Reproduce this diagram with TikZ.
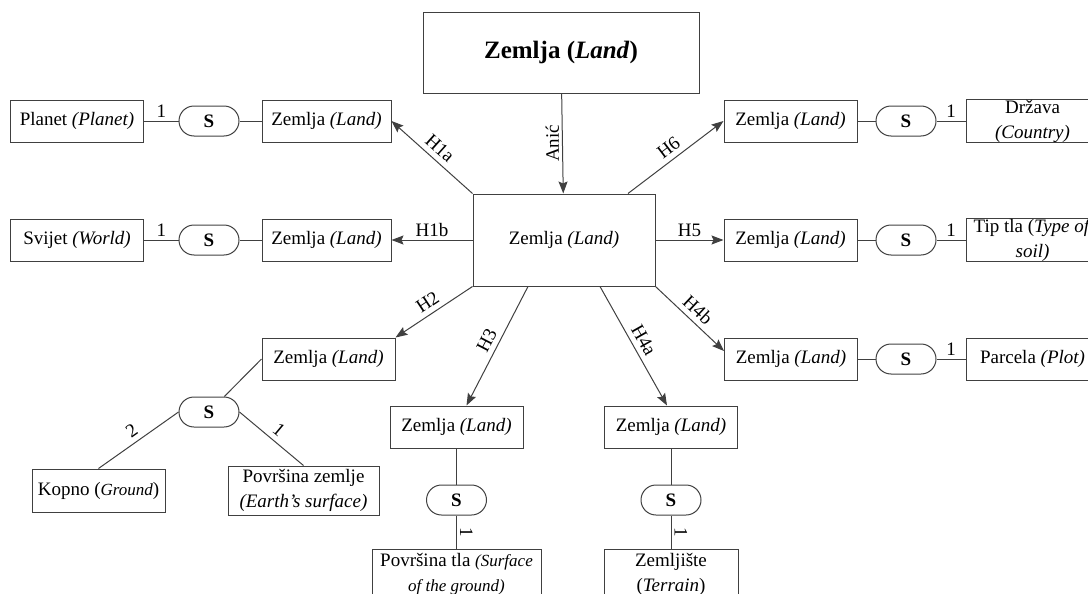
\documentclass[tikz,border=0pt]{standalone}
\usepackage{fontspec}
\setmainfont{Liberation Serif}
\usetikzlibrary{arrows.meta,shapes.misc}
\definecolor{ln}{HTML}{404040}
\begin{document}
\begin{tikzpicture}[x=0.5pt,y=-0.5pt,
  every node/.style={font=\fontsize{9.5}{12.5}\selectfont},
  box/.style={draw=ln, line width=0.5pt, inner sep=0pt, minimum width=66.5pt, minimum height=21pt, align=center},
  pill/.style={draw=ln, line width=0.5pt, rounded rectangle, inner sep=0pt, minimum width=30pt, minimum height=15pt, font=\fontsize{9.5}{12}\selectfont\bfseries},
  conn/.style={draw=ln, line width=0.5pt},
  arr/.style={conn, -{Stealth[length=6pt,width=4.5pt,inset=1pt]}},
  lbl/.style={inner sep=1.5pt},
  slbl/.style={inner sep=2.5pt, sloped, above}
]
\useasboundingbox (0,0) rectangle (1088,594);
\clip (0,0) rectangle (1088,594);

% central nodes
\node[box, minimum width=138pt, minimum height=40.5pt, font=\fontsize{12.5}{15}\selectfont\bfseries] (top) at (561,52.5) {Zemlja (\textit{Land})};
\node[box, minimum width=91pt, minimum height=46pt] (ctr) at (564,240) {Zemlja \textit{(Land)}};

% left rows
\node[box] (pl) at (77,121) {Planet \textit{(Planet)}};
\node[pill] (s1) at (209,121) {S};
\node[box, minimum width=64.5pt] (z1) at (326.5,121) {Zemlja \textit{(Land)}};
\node[box] (sv) at (77,240) {Svijet \textit{(World)}};
\node[pill] (s2) at (209,240) {S};
\node[box, minimum width=64.5pt] (z2) at (326.5,240) {Zemlja \textit{(Land)}};

% right rows
\node[box] (z6) at (790.5,121) {Zemlja \textit{(Land)}};
\node[pill] (s6) at (906,121) {S};
\node[box] (dr) at (1032.5,121) {Država\\\textit{(Country)}};
\node[box] (z5) at (790.5,240) {Zemlja \textit{(Land)}};
\node[pill] (s5) at (906,240) {S};
\node[box] (tt) at (1032.5,240) {Tip tla (\textit{Type of}\\\textit{soil)}};
\node[box] (z4b) at (791,359) {Zemlja \textit{(Land)}};
\node[pill] (s4b) at (906,359) {S};
\node[box] (pc) at (1032.5,359) {Parcela \textit{(Plot)}};

% H2 branch
\node[box] (z2b) at (328.5,359) {Zemlja \textit{(Land)}};
\node[pill] (s3) at (209,412) {S};
\node[box, minimum height=21.5pt] (kp) at (98.5,490.5) {Kopno (\textit{\fontsize{8.5}{10}\selectfont Ground})};
\node[box, minimum width=75.5pt, minimum height=24.5pt] (pz) at (303.5,490.5) {Površina zemlje\\\textit{(Earth’s surface)}};

% H3 branch
\node[box] (z3) at (456.5,427) {Zemlja \textit{(Land)}};
\node[pill] (s7) at (456.5,500) {S};
\node[box, minimum width=84.5pt, minimum height=25pt] (pt) at (456.5,574) {Površina tla \textit{\fontsize{8.5}{11}\selectfont(Surface}\\\textit{\fontsize{8.5}{11}\selectfont of the ground)}};

% H4a branch
\node[box] (z4a) at (671,427) {Zemlja \textit{(Land)}};
\node[pill] (s8) at (671,500) {S};
\node[box, minimum width=67pt, minimum height=25pt] (zt) at (671,574) {Zemljište\\(\textit{Terrain})};

% arrows from centre
\draw[arr] (top) -- node[lbl, midway, rotate=90, above] {Anić} (ctr);
\draw[arr] (ctr.north west) -- node[slbl] {H1a} (z1.east);
\draw[arr] (ctr.west) -- node[lbl, above] {H1b} (z2.east);
\draw[arr] ([xshift=32pt]ctr.north) -- node[slbl] {H6} (z6.west);
\draw[arr] (ctr.east) -- node[lbl, above] {H5} (z5.west);
\draw[arr] (ctr.south east) -- node[slbl] {H4b} ([yshift=4pt]z4b.west);
\draw[arr] (ctr.south west) -- node[slbl] {H2} (z2b.north east);
\draw[arr] ([xshift=-18pt]ctr.south) -- node[slbl] {H3} ([xshift=5pt]z3.north);
\draw[arr] ([xshift=18pt]ctr.south) -- node[slbl] {H4a} ([xshift=-2pt]z4a.north);

% plain connectors
\draw[conn] (pl.east) -- node[lbl, above] {1} (s1.west);
\draw[conn] (s1.east) -- (z1.west);
\draw[conn] (sv.east) -- node[lbl, above] {1} (s2.west);
\draw[conn] (s2.east) -- (z2.west);
\draw[conn] (z6.east) -- (s6.west);
\draw[conn] (s6.east) -- node[lbl, above] {1} (dr.west);
\draw[conn] (z5.east) -- (s5.west);
\draw[conn] (s5.east) -- node[lbl, above] {1} (tt.west);
\draw[conn] (z4b.east) -- (s4b.west);
\draw[conn] (s4b.east) -- node[lbl, above] {1} (pc.west);

\draw[conn] (z2b.west) -- (s3);
\draw[conn] (kp.north) -- node[slbl] {2} (s3.west);
\draw[conn] (pz.north) -- node[slbl] {1} (s3.east);

\draw[conn] (z3.south) -- (s7.north);
\draw[conn] (s7.south) -- node[lbl, midway, rotate=-90, above] {1} (pt.north);
\draw[conn] (z4a.south) -- (s8.north);
\draw[conn] (s8.south) -- node[lbl, midway, rotate=-90, above] {1} (zt.north);
\end{tikzpicture}
\end{document}
